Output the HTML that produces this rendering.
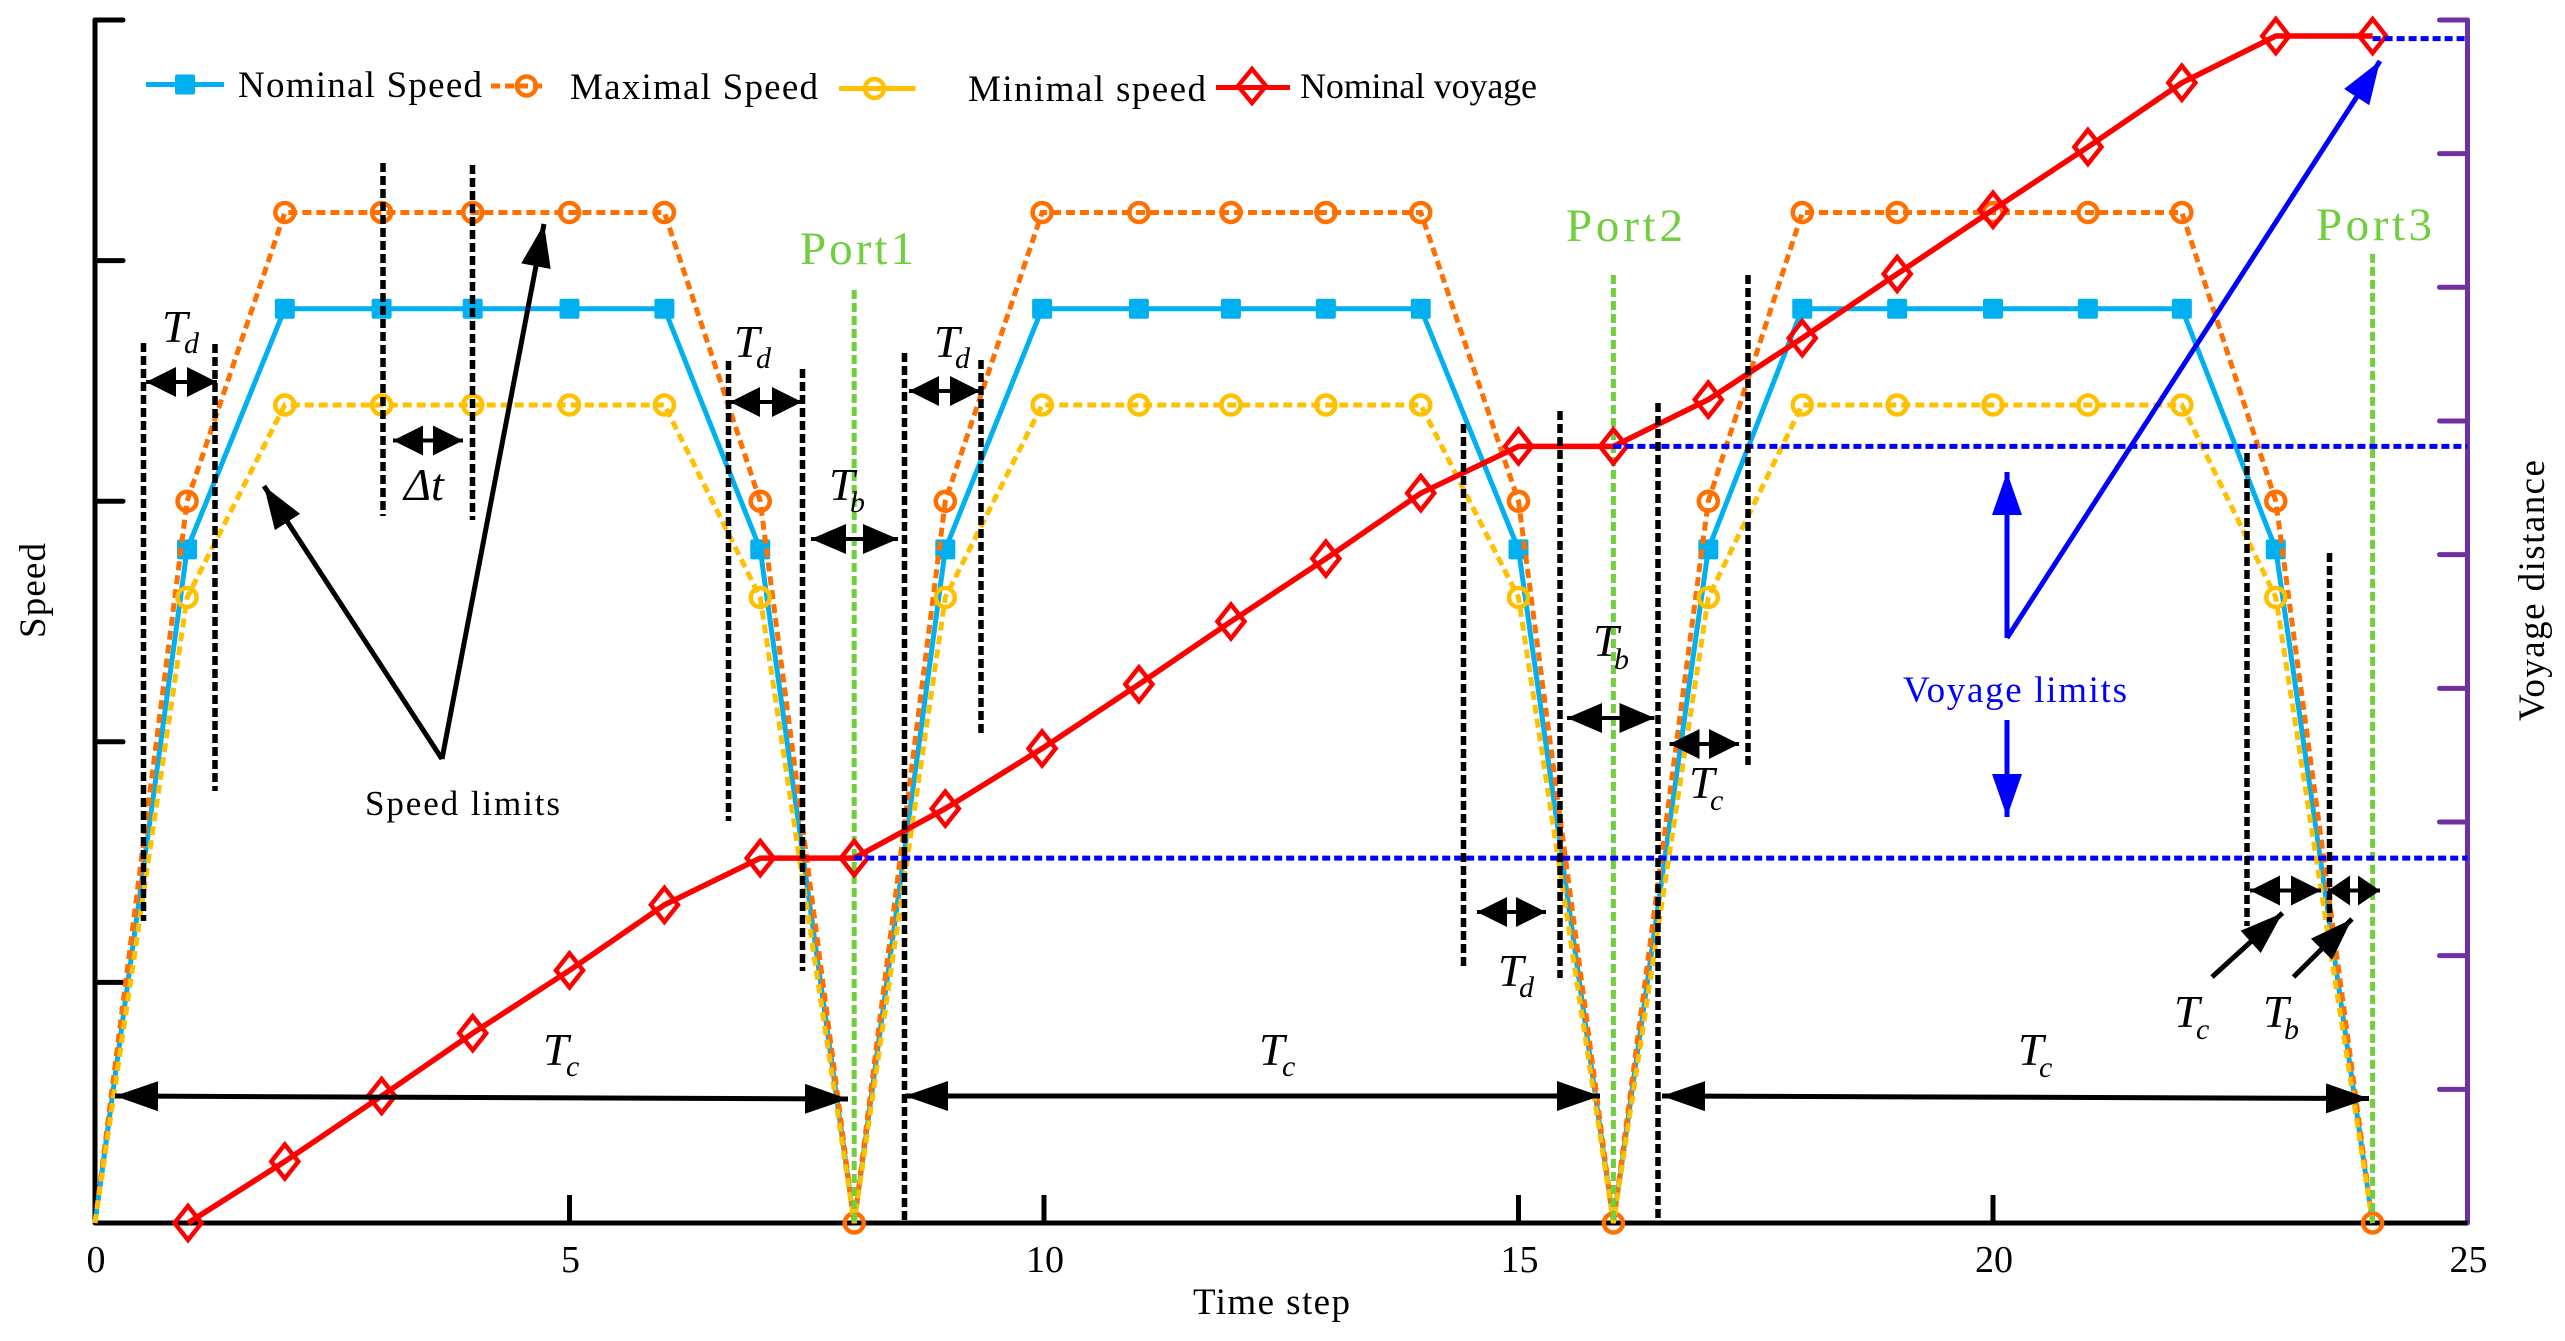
<!DOCTYPE html>
<html lang="en">
<head>
<meta charset="utf-8">
<title>Speed and voyage distance over time steps</title>
<style>
html,body{margin:0;padding:0;background:#fff;width:2565px;height:1341px;overflow:hidden}
svg{display:block}
text{font-family:"Liberation Serif",serif;fill:#000}
.t{font-size:46px;font-style:italic}
.s{font-size:30px;font-style:italic}
.leg{font-size:37px}
.port{font-size:47px;fill:#6fcf3f}
.tick{font-size:38px;text-anchor:middle}
.guide{stroke:#000;stroke-width:5.5;stroke-dasharray:9 4;fill:none}
.arr{stroke:#000;stroke-width:5;fill:none}
.arrs{stroke:#000;stroke-width:4;fill:none}
.barr{stroke:#0000ff;stroke-width:5;fill:none}
</style>
</head>
<body>
<svg id="chart" xmlns="http://www.w3.org/2000/svg" width="2565" height="1341" viewBox="0 0 2565 1341">
  <defs>
    <marker id="hx" markerUnits="userSpaceOnUse" markerWidth="23" markerHeight="30" viewBox="0 0 23 30" refX="22" refY="15" orient="auto-start-reverse"><path d="M0 0L22 15L0 30Z" fill="#000"/></marker>
    <marker id="hs" markerUnits="userSpaceOnUse" markerWidth="31" markerHeight="30" viewBox="0 0 31 30" refX="30" refY="15" orient="auto-start-reverse"><path d="M0 0L30 15L0 30Z" fill="#000"/></marker>
    <marker id="hm" markerUnits="userSpaceOnUse" markerWidth="36" markerHeight="30" viewBox="0 0 36 30" refX="35" refY="15" orient="auto-start-reverse"><path d="M0 0L35 15L0 30Z" fill="#000"/></marker>
    <marker id="hl" markerUnits="userSpaceOnUse" markerWidth="44" markerHeight="30" viewBox="0 0 44 30" refX="43" refY="15" orient="auto-start-reverse"><path d="M0 0L43 15L0 30Z" fill="#000"/></marker>
    <marker id="hb" markerUnits="userSpaceOnUse" markerWidth="44" markerHeight="30" viewBox="0 0 44 30" refX="43" refY="15" orient="auto-start-reverse"><path d="M0 0L43 15L0 30Z" fill="#0000ff"/></marker>
  </defs>

  <g id="axes"></g>
  <g id="series"></g>

  <g>
    <line class="guide" x1="143.5" y1="343" x2="143.5" y2="921"/>
    <line class="guide" x1="215" y1="344" x2="215" y2="791"/>
    <line class="guide" x1="383" y1="163" x2="383" y2="516"/>
    <line class="guide" x1="472.5" y1="165" x2="472.5" y2="520"/>
    <line class="guide" x1="728.5" y1="361" x2="728.5" y2="821"/>
    <line class="guide" x1="802.5" y1="369" x2="802.5" y2="971"/>
    <line class="guide" x1="904.5" y1="353" x2="904.5" y2="1220"/>
    <line class="guide" x1="981" y1="360" x2="981" y2="737"/>
    <line class="guide" x1="1463.5" y1="424" x2="1463.5" y2="966"/>
    <line class="guide" x1="1560" y1="411" x2="1560" y2="978"/>
    <line class="guide" x1="1658" y1="403" x2="1658" y2="1218"/>
    <line class="guide" x1="1748" y1="275" x2="1748" y2="765"/>
    <line class="guide" x1="2247" y1="453" x2="2247" y2="926"/>
    <line class="guide" x1="2329.5" y1="553" x2="2329.5" y2="922"/>
  </g>

  <g>
    <line class="arrs" x1="146" y1="382" x2="217" y2="382" marker-start="url(#hs)" marker-end="url(#hs)"/>
    <line class="arrs" x1="393" y1="440.5" x2="463" y2="440.5" marker-start="url(#hs)" marker-end="url(#hs)"/>
    <line class="arrs" x1="730" y1="402" x2="802" y2="402" marker-start="url(#hs)" marker-end="url(#hs)"/>
    <line class="arrs" x1="811" y1="539" x2="898" y2="539" marker-start="url(#hm)" marker-end="url(#hm)"/>
    <line class="arrs" x1="909" y1="391" x2="980" y2="391" marker-start="url(#hs)" marker-end="url(#hs)"/>
    <line class="arrs" x1="1567" y1="718" x2="1654.5" y2="718" marker-start="url(#hm)" marker-end="url(#hm)"/>
    <line class="arrs" x1="1669.5" y1="744" x2="1739" y2="744" marker-start="url(#hs)" marker-end="url(#hs)"/>
    <line class="arrs" x1="1477" y1="912" x2="1546" y2="912" marker-start="url(#hs)" marker-end="url(#hs)"/>
    <line class="arrs" x1="2250" y1="890.5" x2="2321" y2="890.5" marker-start="url(#hs)" marker-end="url(#hs)"/>
    <line class="arrs" x1="2328" y1="890.5" x2="2380" y2="890.5" marker-start="url(#hx)" marker-end="url(#hx)"/>
    <line class="arr" x1="115" y1="1096" x2="848" y2="1099" marker-start="url(#hl)" marker-end="url(#hl)"/>
    <line class="arr" x1="905" y1="1096" x2="1600" y2="1096" marker-start="url(#hl)" marker-end="url(#hl)"/>
    <line class="arr" x1="1662" y1="1096" x2="2369" y2="1098.5" marker-start="url(#hl)" marker-end="url(#hl)"/>
    <line class="arr" x1="442" y1="759" x2="264" y2="486" marker-end="url(#hl)"/>
    <line class="arr" x1="442" y1="759" x2="544" y2="224" marker-end="url(#hl)"/>
    <line class="arr" x1="2212" y1="977" x2="2282.5" y2="913" marker-end="url(#hl)"/>
    <line class="arr" x1="2293.5" y1="977" x2="2352" y2="919" marker-end="url(#hl)"/>
    <line class="barr" x1="2007" y1="638" x2="2380" y2="61" marker-end="url(#hb)"/>
    <line class="barr" x1="2007" y1="638" x2="2007" y2="472" marker-end="url(#hb)"/>
    <line class="barr" x1="2007" y1="720" x2="2007" y2="817" marker-end="url(#hb)"/>
  </g>

  <g>
    <text class="t" x="162" y="342">T</text><text class="s" x="184" y="353">d</text>
    <text class="t" x="734" y="357">T</text><text class="s" x="756" y="368">d</text>
    <text class="t" x="829" y="500">T</text><text class="s" x="850" y="512">b</text>
    <text class="t" x="934" y="357">T</text><text class="s" x="955" y="368">d</text>
    <text class="t" x="404" y="500">Δ<tspan font-style="italic">t</tspan></text>
    <text class="t" x="543" y="1065">T</text><text class="s" x="566" y="1076">c</text>
    <text class="t" x="1259" y="1065">T</text><text class="s" x="1282" y="1076">c</text>
    <text class="t" x="1593" y="656">T</text><text class="s" x="1614" y="669">b</text>
    <text class="t" x="1689" y="798">T</text><text class="s" x="1710" y="810">c</text>
    <text class="t" x="1498" y="986">T</text><text class="s" x="1519" y="997">d</text>
    <text class="t" x="2018" y="1065">T</text><text class="s" x="2039" y="1077">c</text>
    <text class="t" x="2174" y="1027">T</text><text class="s" x="2196" y="1039">c</text>
    <text class="t" x="2263" y="1027">T</text><text class="s" x="2284" y="1039">b</text>
    <text x="365" y="815" font-size="35" textLength="195" lengthAdjust="spacing">Speed limits</text>
    <text x="1903" y="702" font-size="37" textLength="224" lengthAdjust="spacing" style="fill:#0000ff">Voyage limits</text>
    <text class="port" x="800" y="264" textLength="114" lengthAdjust="spacing">Port1</text>
    <text class="port" x="1566" y="241" textLength="117" lengthAdjust="spacing">Port2</text>
    <text class="port" x="2316" y="240" textLength="116" lengthAdjust="spacing">Port3</text>
  </g>

  <g>
    <g>
      <line x1="146" y1="84.5" x2="224" y2="84.5" stroke="#00b0f0" stroke-width="5"/>
      <rect x="175" y="74.5" width="20" height="20" rx="2" fill="#00b0f0"/>
      <text class="leg" x="238" y="97" textLength="244" lengthAdjust="spacing">Nominal Speed</text>
    </g>
    <g>
      <line x1="491" y1="86" x2="546.5" y2="86" stroke="#ff7000" stroke-width="5" stroke-dasharray="9 5"/>
      <circle cx="526.5" cy="86" r="9.5" fill="none" stroke="#ff7000" stroke-width="4.5"/>
      <text class="leg" x="570" y="99" textLength="248" lengthAdjust="spacing">Maximal Speed</text>
    </g>
    <g>
      <line x1="839" y1="88.5" x2="915.500" y2="88.5" stroke="#ffc000" stroke-width="5"/>
      <circle cx="874.500" cy="88.5" r="9.5" fill="none" stroke="#ffc000" stroke-width="4.5"/>
      <text class="leg" x="968" y="101" textLength="238" lengthAdjust="spacing">Minimal speed</text>
    </g>
    <g>
      <line x1="1216" y1="87.5" x2="1290" y2="87.5" stroke="#ff0000" stroke-width="5"/>
      <path d="M1252 69L1266 86L1252 103L1238 86Z" fill="none" stroke="#ff0000" stroke-width="4.5"/>
      <text x="1300" y="98" font-size="36" textLength="237" lengthAdjust="spacing">Nominal voyage</text>
    </g>
  </g>

  <text x="1193" y="1314" font-size="37" textLength="157" lengthAdjust="spacing">Time step</text>
  <text transform="translate(45 638) rotate(-90)" font-size="37" textLength="95" lengthAdjust="spacing">Speed</text>
  <text transform="translate(2544 721) rotate(-90)" font-size="37" textLength="261" lengthAdjust="spacing">Voyage distance</text>
</svg>

<script>
const steps = [0,0.97,2,3.02,3.98,5,6,7.01,8,8.96,9.98,11,11.97,12.97,13.97,15,16,17,17.99,18.99,20,21,21.99,22.98,24];
const nominalSpeed = [0,14,19,19,19,19,19,14,0,14,19,19,19,19,19,14,0,14,19,19,19,19,19,14,0];
const maximalSpeed = [0,15,21,21,21,21,21,15,0,15,21,21,21,21,21,15,0,15,21,21,21,21,21,15,0];
const minimalSpeed = [0,13,17,17,17,17,17,13,0,13,17,17,17,17,17,13,0,13,17,17,17,17,17,13,0];
const voyageSteps = [0.98,2,3.02,3.98,5,6,7.01,8,8.96,9.98,11,11.97,12.97,13.97,15,16,17,17.99,18.99,20,21,21.99,22.98,24];
const nominalVoyage = [0,0.46,0.95,1.42,1.89,2.38,2.73,2.73,3.10,3.55,4.03,4.50,4.97,5.46,5.81,5.81,6.16,6.62,7.10,7.58,8.05,8.53,8.88,8.88];
const portSteps = [8,16,24];
const portTopSpeed = [19.39,19.70,20.14];
const voyageLimitSteps = [8,16,24];
const voyageLimitValues = [2.73,5.81,8.86];
const xTicks = [0,5,10,15,20,25];
const xTickLabels = ["0","5","10","15","20","25"];
const speedTicks = [5,10,15,20,25];
const distanceTicks = [1,2,3,4,5,6,7,8,9];

const X0 = 95, XU = 94.9, Y0 = 1223, SU = 48.12, DU = 133.67, XMAX = 25;
function x(t){ return X0 + t * XU; }
function ySpeed(v){ return Y0 - v * SU; }
function yVoyage(d){ return Y0 - d * DU; }

const NS = 'http://www.w3.org/2000/svg';
const axes = document.getElementById('axes');
const series = document.getElementById('series');
function make(parent, tag, attrs){
  const el = document.createElementNS(NS, tag);
  for (const k in attrs) el.setAttribute(k, attrs[k]);
  parent.appendChild(el);
  return el;
}
function pts(xs, ys){ return xs.map((t, i) => x(t).toFixed(1) + ',' + ys[i].toFixed(1)).join(' '); }

/* axes */
const leftAxis = make(axes, 'line', {x1:X0, y1:ySpeed(25), x2:X0, y2:Y0, stroke:'#000', 'stroke-width':5, 'stroke-linecap':'round'});


const rightAxis = make(axes, 'line', {x1:x(XMAX), y1:yVoyage(9), x2:x(XMAX), y2:Y0, stroke:'#7030a0', 'stroke-width':5, 'stroke-linecap':'round'});


const bottomAxis = make(axes, 'line', {x1:X0, y1:Y0, x2:x(XMAX), y2:Y0, stroke:'#000', 'stroke-width':5});



speedTicks.forEach(v => {
  const tk = make(axes, 'line', {x1:X0, y1:ySpeed(v), x2:X0 + 28, y2:ySpeed(v), stroke:'#000', 'stroke-width':5, 'stroke-linecap':'round'});
  
  
});
distanceTicks.forEach(d => {
  const tk = make(axes, 'line', {x1:x(XMAX) - 28, y1:yVoyage(d), x2:x(XMAX), y2:yVoyage(d), stroke:'#7030a0', 'stroke-width':5, 'stroke-linecap':'round'});
  
  
});
xTicks.forEach((t, i) => {
  if (t > 0 && t < XMAX) {
    const tk = make(axes, 'line', {x1:x(t), y1:Y0, x2:x(t), y2:Y0 - 28, stroke:'#000', 'stroke-width':5});
    
    
  }
  const lb = make(axes, 'text', {x:x(t) + 1, y:Y0 + 49, class:'tick'});
  
  
  lb.textContent = xTickLabels[i];
});

/* nominal speed */
const nominalLine = make(series, 'polyline', {points:pts(steps, nominalSpeed.map(ySpeed)), fill:'none', stroke:'#00b0f0', 'stroke-width':5});


steps.forEach((t, i) => {
  if (nominalSpeed[i] <= 0) return;
  const m = make(series, 'rect', {x:x(t) - 10, y:ySpeed(nominalSpeed[i]) - 10, width:20, height:20, rx:2, fill:'#00b0f0'});
  
  
});

/* maximal speed */
const maximalLine = make(series, 'polyline', {points:pts(steps, maximalSpeed.map(ySpeed)), fill:'none', stroke:'#ff7000', 'stroke-width':5, 'stroke-dasharray':'9 5'});


steps.forEach((t, i) => {
  if (t === 0) return;
  const m = make(series, 'circle', {cx:x(t), cy:ySpeed(maximalSpeed[i]), r:9.5, fill:'none', stroke:'#ff7000', 'stroke-width':4.5});
  
  
});

/* minimal speed */
const minimalLine = make(series, 'polyline', {points:pts(steps, minimalSpeed.map(ySpeed)), fill:'none', stroke:'#ffc000', 'stroke-width':5, 'stroke-dasharray':'9 5'});


steps.forEach((t, i) => {
  if (minimalSpeed[i] <= 0) return;
  const m = make(series, 'circle', {cx:x(t), cy:ySpeed(minimalSpeed[i]), r:9.5, fill:'none', stroke:'#ffc000', 'stroke-width':4.5});
  
  
});

/* port lines */
portSteps.forEach((t, i) => {
  const p = make(series, 'line', {x1:x(t), y1:ySpeed(portTopSpeed[i]), x2:x(t), y2:Y0, stroke:'#6fcf3f', 'stroke-width':5, 'stroke-dasharray':'9 4'});
  
  
});

/* nominal voyage */
const voyageLine = make(series, 'polyline', {points:pts(voyageSteps, nominalVoyage.map(yVoyage)), fill:'none', stroke:'#ff0000', 'stroke-width':5.5});


voyageSteps.forEach((t, i) => {
  const cx = x(t), cy = yVoyage(nominalVoyage[i]);
  const m = make(series, 'path', {d:`M${cx} ${cy - 17}L${cx + 13.5} ${cy}L${cx} ${cy + 17}L${cx - 13.5} ${cy}Z`, fill:'none', stroke:'#ff0000', 'stroke-width':4.5});
  
  
});

/* voyage limits */
voyageLimitSteps.forEach((t, i) => {
  const l = make(series, 'line', {x1:x(t), y1:yVoyage(voyageLimitValues[i]), x2:x(XMAX), y2:yVoyage(voyageLimitValues[i]), stroke:'#0000ff', 'stroke-width':5, 'stroke-dasharray':'8 4'});
  
  
});
</script>
</body>
</html>
